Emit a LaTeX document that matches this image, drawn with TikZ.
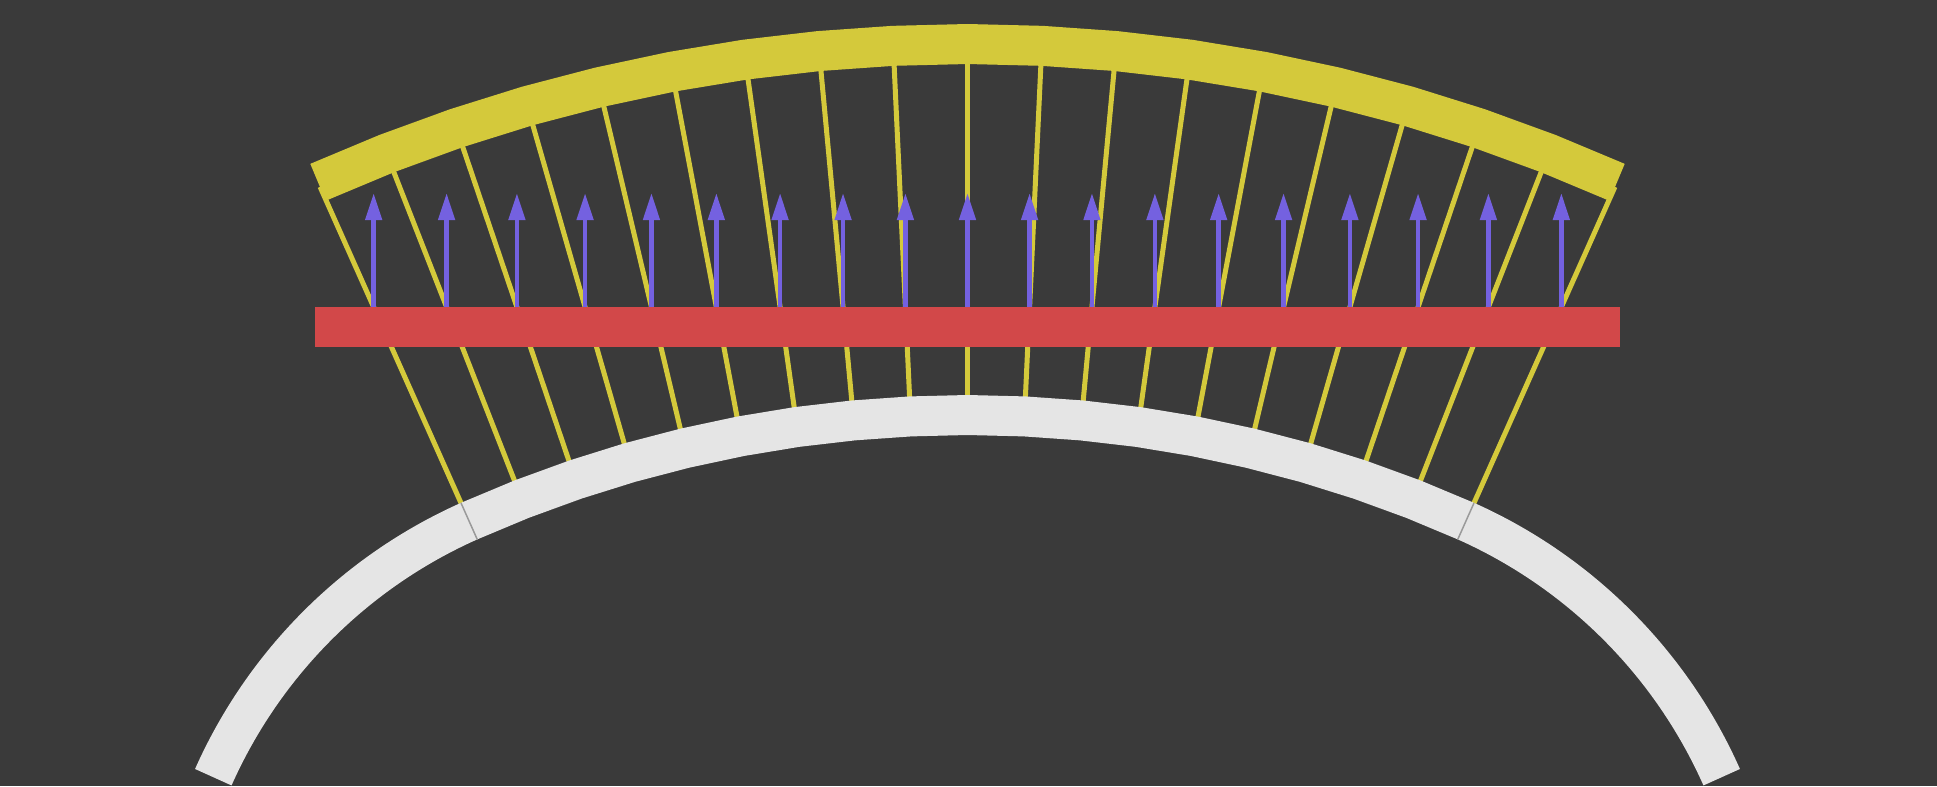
\documentclass[tikz,border=0pt]{standalone}
\usepackage{tikz}
\usetikzlibrary{arrows.meta}
\definecolor{bg}{HTML}{3A3A3A}
\definecolor{road}{HTML}{E5E5E5}
\definecolor{rim}{HTML}{D4C93B}
\definecolor{slab}{HTML}{D24849}
\definecolor{lift}{HTML}{7461E0}
\definecolor{seamgray}{HTML}{9A9A9A}
\tikzset{
  band/.style={line width=4mm,line cap=butt,line join=miter},
  ray/.style={draw=rim,line width=0.5mm},
  push/.style={-{Triangle[length=2.7mm,width=1.6mm]},draw=lift,fill=lift,line width=0.45mm},
  joint/.style={draw=seamgray,line width=0.15mm}
}

\begin{document}
\begin{tikzpicture}[x=0.1mm,y=0.1mm]
 \useasboundingbox (0,0) rectangle (1937,786);
 \fill[bg] (0,0) rectangle (1937,786);
 \def\dphi{2.67}
 \coordinate (O) at (967.5,-853);
 \foreach \k [evaluate=\k as \a using 90+(9-\k)*\dphi] in {0,...,18}
   \draw[ray] ([shift={(\a:1230)}]O) -- ([shift={(\a:1590)}]O);
 \draw[band,road] ([shift={(90+9*\dphi:1224)}]O)
   \foreach \k [evaluate=\k as \a using 90+(9-\k)*\dphi] in {1,...,18} { -- ([shift={(\a:1224)}]O) };
 \draw[band,road] ([shift={(90+9*\dphi:1224)}]O) arc[start angle=90+9*\dphi,end angle=132+9*\dphi,radius=505];
 \draw[band,road] ([shift={(90-9*\dphi:1224)}]O) arc[start angle=90-9*\dphi,end angle=48-9*\dphi,radius=505];
 \draw[joint] ([shift={(90+9*\dphi:1204)}]O) -- ([shift={(90+9*\dphi:1244)}]O);
 \draw[joint] ([shift={(90-9*\dphi:1204)}]O) -- ([shift={(90-9*\dphi:1244)}]O);
 \draw[band,rim] ([shift={(90+9*\dphi:1595)}]O)
   \foreach \k [evaluate=\k as \a using 90+(9-\k)*\dphi] in {1,...,18} { -- ([shift={(\a:1595)}]O) };
 \fill[slab] (315,439) rectangle (1620,479);
 \foreach \k in {0,...,18} {
   \pgfmathsetmacro\ax{967.5+1332*tan((\k-9)*\dphi)}
   \draw[push] (\ax,479) -- (\ax,593);
 }
\end{tikzpicture}
\end{document}
